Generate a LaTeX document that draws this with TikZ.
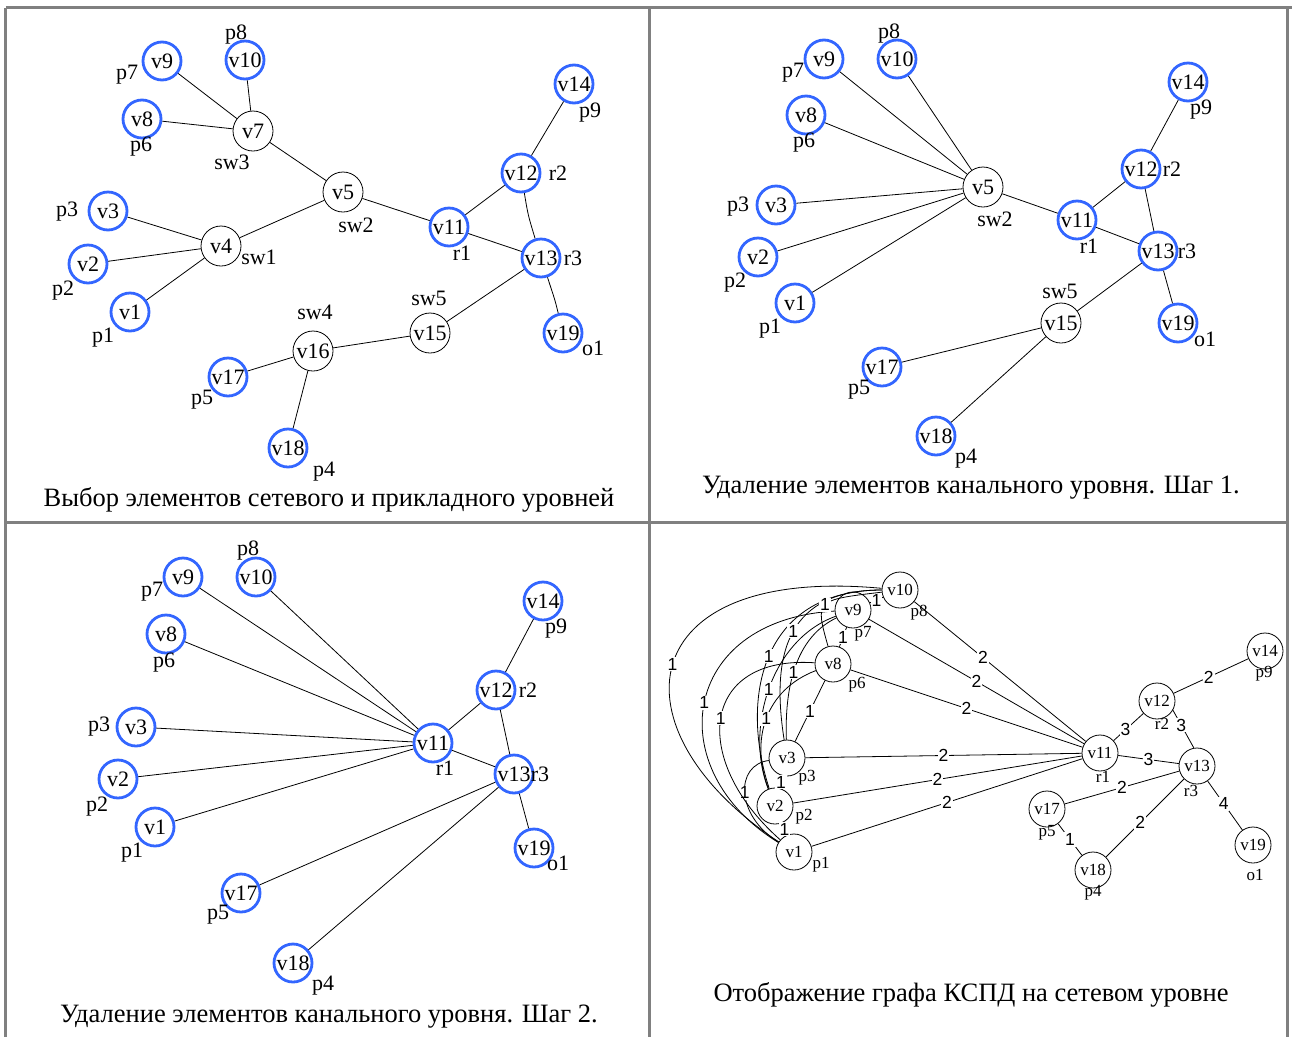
\documentclass[tikz,border=0pt]{standalone}
\usepackage{fontspec}
\setmainfont{Liberation Serif}
\newfontfamily\wfont{Liberation Sans}
\newcommand\fsz[1]{\fontsize{#1}{#1}\selectfont}
\definecolor{vblue}{RGB}{51,102,255}
\definecolor{framegray}{RGB}{128,128,128}
\tikzset{
  pnode/.style={circle, draw=vblue, line width=2.8pt, minimum size=38pt, inner sep=0pt, font=\fsz{22}},
  snode/.style={circle, draw=black, line width=0.8pt, minimum size=40pt, inner sep=0pt, font=\fsz{22}},
  gnode/.style={circle, draw=black, line width=0.8pt, minimum size=36pt, inner sep=0pt, font=\fsz{17}},
  tag/.style={inner sep=0pt, font=\fsz{22}},
  gtag/.style={inner sep=0pt, font=\fsz{17}},
  caption/.style={inner sep=0pt, font=\fsz{26.5}},
  link/.style={line width=0.8pt},
  wt/.style={fill=white, inner sep=1pt, font=\wfont\fsz{17.5}},
  frameline/.style={draw=framegray, line width=3pt},
}
\begin{document}
\begin{tikzpicture}[x=1pt,y=-1pt]
\useasboundingbox (0,0) rectangle (1292,1037);

% ---------- frame of the four panels ----------
\draw[frameline] (5.5,7.5) -- (1292,7.5);
\draw[frameline] (5.5,7.5) -- (5.5,1037);
\draw[frameline] (1287,7.5) -- (1287,1037);
\draw[frameline] (649,7.5) -- (649,1037);
\draw[frameline] (5.5,522.5) -- (1287,522.5);

% ---------- panel 1: choice of network and application elements ----------
\node[pnode] (a9)  at (162,61)  {v9};
\node[pnode] (a10) at (245,60)  {v10};
\node[pnode] (a8)  at (142,119) {v8};
\node[snode] (a7)  at (253,131) {v7};
\node[pnode] (a3)  at (108,211) {v3};
\node[pnode] (a2)  at (88,264)  {v2};
\node[pnode] (a1)  at (130,312) {v1};
\node[snode] (a4)  at (221,246) {v4};
\node[snode] (a5)  at (343,192) {v5};
\node[pnode] (a11) at (449,227) {v11};
\node[pnode] (a12) at (521,173) {v12};
\node[pnode] (a13) at (541,258) {v13};
\node[pnode] (a14) at (574,84)  {v14};
\node[pnode] (a19) at (563,333) {v19};
\node[snode] (a15) at (430,333) {v15};
\node[snode] (a16) at (313,351) {v16};
\node[pnode] (a17) at (228,377) {v17};
\node[pnode] (a18) at (288,448) {v18};

\node[tag] (ap8)  at (236,35)  {p8};
\node[tag] (ap7)  at (127,75)  {p7};
\node[tag] (ap6)  at (141,147) {p6};
\node[tag] (asw3) at (232,162) {sw3};
\node[tag] (ap3)  at (67,212)  {p3};
\node[tag] (asw1) at (259,257) {sw1};
\node[tag] (ap2)  at (63,291)  {p2};
\node[tag] (ap1)  at (103,338) {p1};
\node[tag] (asw2) at (356,225) {sw2};
\node[tag] (ar1)  at (462,253) {r1};
\node[tag] (ar2)  at (558,173) {r2};
\node[tag] (ar3)  at (573,258) {r3};
\node[tag] (asw5) at (429,298) {sw5};
\node[tag] (asw4) at (315,312) {sw4};
\node[tag] (ao1)  at (593,348) {o1};
\node[tag] (ap5)  at (202,400) {p5};
\node[tag] (ap4)  at (324,472) {p4};
\node[tag] (ap9)  at (590,113) {p9};

\draw[link] (a9) -- (a7);
\draw[link] (a10) -- (a7);
\draw[link] (a8) -- (a7);
\draw[link] (a7) -- (a5);
\draw[link] (a3) -- (a4);
\draw[link] (a2) -- (a4);
\draw[link] (a1) -- (a4);
\draw[link] (a4) -- (a5);
\draw[link] (a5) -- (a11);
\draw[link] (a11) -- (a12);
\draw[link] (a11) -- (a13);
\draw[link] (a12) .. controls (528,215) .. (a13);
\draw[link] (a12) -- (a14);
\draw[link] (a13) .. controls (555,300) .. (a19);
\draw[link] (a13) -- (a15);
\draw[link] (a15) -- (a16);
\draw[link] (a16) -- (a17);
\draw[link] (a16) -- (a18);

\node[caption] (cap1) at (329,500) {Выбор элементов сетевого и прикладного уровней};

% ---------- panel 2: removing link-level elements, step 1 ----------
\node[pnode] (b9)  at (824,59)   {v9};
\node[pnode] (b10) at (897,59)   {v10};
\node[pnode] (b8)  at (806,115)  {v8};
\node[pnode] (b3)  at (776,205)  {v3};
\node[pnode] (b2)  at (758,257)  {v2};
\node[pnode] (b1)  at (795,303)  {v1};
\node[snode] (b5)  at (983,187)  {v5};
\node[pnode] (b11) at (1077,220) {v11};
\node[pnode] (b12) at (1141,169) {v12};
\node[pnode] (b13) at (1158,251) {v13};
\node[pnode] (b14) at (1188,82)  {v14};
\node[pnode] (b19) at (1178,323) {v19};
\node[snode] (b15) at (1061,323) {v15};
\node[pnode] (b17) at (882,367)  {v17};
\node[pnode] (b18) at (936,436)  {v18};

\node[tag] (bp8)  at (889,34)   {p8};
\node[tag] (bp7)  at (793,73)   {p7};
\node[tag] (bp6)  at (804,143)  {p6};
\node[tag] (bp3)  at (738,207)  {p3};
\node[tag] (bp2)  at (735,283)  {p2};
\node[tag] (bp1)  at (770,329)  {p1};
\node[tag] (bsw2) at (995,219)  {sw2};
\node[tag] (br1)  at (1089,246) {r1};
\node[tag] (br2)  at (1172,169) {r2};
\node[tag] (br3)  at (1187,251) {r3};
\node[tag] (bp9)  at (1201,110) {p9};
\node[tag] (bo1)  at (1205,339) {o1};
\node[tag] (bsw5) at (1060,291) {sw5};
\node[tag] (bp5)  at (859,390)  {p5};
\node[tag] (bp4)  at (966,459)  {p4};

\foreach \n in {b9,b10,b8,b3,b2,b1} \draw[link] (\n) -- (b5);
\draw[link] (b5) -- (b11);
\draw[link] (b11) -- (b12);
\draw[link] (b11) -- (b13);
\draw[link] (b12) -- (b13);
\draw[link] (b12) -- (b14);
\draw[link] (b13) -- (b19);
\draw[link] (b13) -- (b15);
\draw[link] (b15) -- (b17);
\draw[link] (b15) -- (b18);

\node[caption] (cap2) at (971,488) {Удаление элементов канального уровня. Шаг 1.};

% ---------- panel 3: removing link-level elements, step 2 ----------
\node[pnode] (c9)  at (183,577) {v9};
\node[pnode] (c10) at (256,577) {v10};
\node[pnode] (c8)  at (166,634) {v8};
\node[pnode] (c3)  at (136,727) {v3};
\node[pnode] (c2)  at (118,779) {v2};
\node[pnode] (c1)  at (155,827) {v1};
\node[pnode] (c11) at (433,743) {v11};
\node[pnode] (c12) at (496,690) {v12};
\node[pnode] (c13) at (514,774) {v13};
\node[pnode] (c14) at (543,601) {v14};
\node[pnode] (c19) at (534,848) {v19};
\node[pnode] (c17) at (241,893) {v17};
\node[pnode] (c18) at (293,963) {v18};

\node[tag] (cp8) at (248,551) {p8};
\node[tag] (cp7) at (152,592) {p7};
\node[tag] (cp6) at (164,663) {p6};
\node[tag] (cp3) at (99,727)  {p3};
\node[tag] (cp2) at (97,807)  {p2};
\node[tag] (cp1) at (132,853) {p1};
\node[tag] (cr1) at (445,768) {r1};
\node[tag] (cr2) at (528,690) {r2};
\node[tag] (cr3) at (540,774) {r3};
\node[tag] (cp9) at (556,629) {p9};
\node[tag] (co1) at (558,863) {o1};
\node[tag] (cp5) at (218,915) {p5};
\node[tag] (cp4) at (323,986) {p4};

\foreach \n in {c9,c10,c8,c3,c2,c1} \draw[link] (\n) -- (c11);
\draw[link] (c11) -- (c12);
\draw[link] (c11) -- (c13);
\draw[link] (c12) -- (c13);
\draw[link] (c12) -- (c14);
\draw[link] (c13) -- (c19);
\draw[link] (c13) -- (c17);
\draw[link] (c13) -- (c18);

\node[caption] (cap3) at (329,1017) {Удаление элементов канального уровня. Шаг 2.};

% ---------- panel 4: weighted graph on the network level ----------
\node[gnode] (d10) at (900,590)  {v10};
\node[gnode] (d9)  at (853,610)  {v9};
\node[gnode] (d8)  at (833,664)  {v8};
\node[gnode] (d3)  at (787,758)  {v3};
\node[gnode] (d2)  at (775,806)  {v2};
\node[gnode] (d1)  at (794,852)  {v1};
\node[gnode] (d11) at (1100,753) {v11};
\node[gnode] (d12) at (1157,701) {v12};
\node[gnode] (d13) at (1197,766) {v13};
\node[gnode] (d14) at (1265,651) {v14};
\node[gnode] (d17) at (1047,809) {v17};
\node[gnode] (d18) at (1093,870) {v18};
\node[gnode] (d19) at (1253,845) {v19};

\node[gtag] (dp8) at (919,613)  {p8};
\node[gtag] (dp7) at (863,634)  {p7};
\node[gtag] (dp6) at (857,685)  {p6};
\node[gtag] (dp3) at (807,778)  {p3};
\node[gtag] (dp2) at (804,817)  {p2};
\node[gtag] (dp1) at (821,865)  {p1};
\node[gtag] (dr1) at (1103,777) {r1};
\node[gtag] (dr2) at (1162,724) {r2};
\node[gtag] (dr3) at (1191,791) {r3};
\node[gtag] (dp9) at (1264,674) {p9};
\node[gtag] (dp5) at (1047,833) {p5};
\node[gtag] (dp4) at (1093,893) {p4};
\node[gtag] (do1) at (1255,875) {o1};

% application-level links of weight 1
\draw[link] (d1) -- node[wt,pos=0.5]{1} (d2);
\draw[link] (d2) -- node[wt,pos=0.5]{1} (d3);
\draw[link] (d3) -- node[wt,pos=0.5]{1} (d8);
\draw[link] (d8) -- node[wt,pos=0.5]{1} (d9);
\draw[link] (d9) -- node[wt,pos=0.5]{1} (d10);
\draw[link] (d1) .. controls (735,815) and (735,765) .. node[wt,pos=0.5]{1} (d3);
\draw[link] (d1) .. controls (610,730) and (630,565) .. node[wt,pos=0.5]{1} (d10);
\draw[link] (d1) .. controls (660,770) and (680,620) .. node[wt,pos=0.5]{1} (d9);
\draw[link] (d1) .. controls (690,760) and (700,655) .. node[wt,pos=0.5]{1} (d8);
\draw[link] (d2) .. controls (740,700) and (760,590) .. node[wt,pos=0.5]{1} (d10);
\draw[link] (d3) .. controls (770,650) and (790,590) .. node[wt,pos=0.5]{1} (d10);
\draw[link] (d8) .. controls (815,600) .. node[wt,pos=0.5]{1} (d10);
\draw[link] (d2) .. controls (745,730) and (770,640) .. node[wt,pos=0.5]{1} (d9);
\draw[link] (d3) .. controls (785,700) and (790,640) .. node[wt,pos=0.5]{1} (d9);
\draw[link] (d2) .. controls (750,740) and (765,690) .. node[wt,pos=0.5]{1} (d8);
\draw[link] (d17) -- node[wt,pos=0.5]{1} (d18);

% network-level links
\draw[link] (d10) -- node[wt,pos=0.4]{2} (d11);
\draw[link] (d9)  -- node[wt,pos=0.5]{2} (d11);
\draw[link] (d8)  -- node[wt,pos=0.5]{2} (d11);
\draw[link] (d3)  -- node[wt,pos=0.5]{2} (d11);
\draw[link] (d2)  -- node[wt,pos=0.5]{2} (d11);
\draw[link] (d1)  -- node[wt,pos=0.5]{2} (d11);
\draw[link] (d11) -- node[wt,pos=0.4]{3} (d12);
\draw[link] (d11) -- node[wt,pos=0.5]{3} (d13);
\draw[link] (d12.-30) -- node[wt,pos=0.4]{3} (d13.100);
\draw[link] (d12) -- node[wt,pos=0.47]{2} (d14);
\draw[link] (d13) -- node[wt,pos=0.46]{4} (d19);
\draw[link] (d13) -- node[wt,pos=0.5]{2} (d17);
\draw[link] (d13) -- node[wt,pos=0.56]{2} (d18);

\node[caption] (cap4) at (971,995) {Отображение графа КСПД на сетевом уровне};
\end{tikzpicture}
\end{document}
